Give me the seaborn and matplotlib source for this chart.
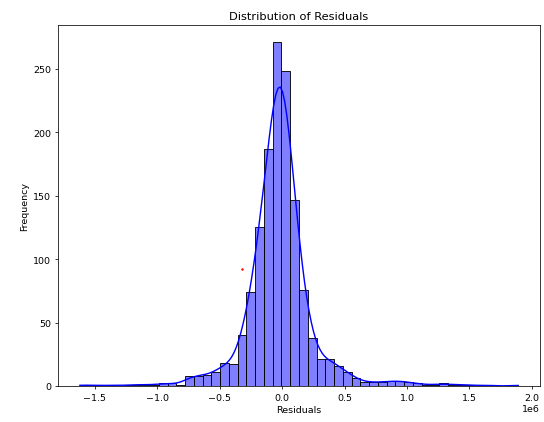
import numpy as np
import matplotlib
matplotlib.use("Agg")
import matplotlib.pyplot as plt
import seaborn as sns

# Residual range and per-bin counts (50 equal-width bins)
residual_min = -1.62e6
residual_max = 1.89e6
bin_counts = [
    1, 1, 0, 1, 0, 1, 1, 1, 1, 2,
    2, 1, 8, 8, 9, 11, 18, 17, 40, 74,
    125, 187, 271, 248, 147, 76, 38, 21, 21, 16,
    11, 6, 3, 3, 3, 4, 4, 3, 2, 1,
    1, 2, 1, 1, 1, 0, 1, 0, 0, 1,
]
# A single highlighted point
marker_x = [-0.325e6]
marker_y = [92]

n_bins = len(bin_counts)
edges = np.linspace(residual_min, residual_max, n_bins + 1)
positions = (edges[:-1] + edges[1:]) / 2
# extreme bins hold the smallest and largest residuals
positions[0] = residual_min
positions[-1] = residual_max
# one sample per observation, placed at its bin position
residuals = np.repeat(positions, bin_counts)

fig = plt.figure(figsize=(8, 6.22), dpi=68)
ax = fig.add_axes([0.1066, 0.0851, 0.9926 - 0.1066, 0.9385 - 0.0851])

sns.histplot(x=residuals, bins=n_bins, kde=True, color="blue", ax=ax)
ax.plot(marker_x, marker_y, "o", color="red", markersize=1.5)

ax.set_title("Distribution of Residuals")
ax.set_xlabel("Residuals")
ax.set_ylabel("Frequency")

fig.savefig("out.png", dpi=68)
